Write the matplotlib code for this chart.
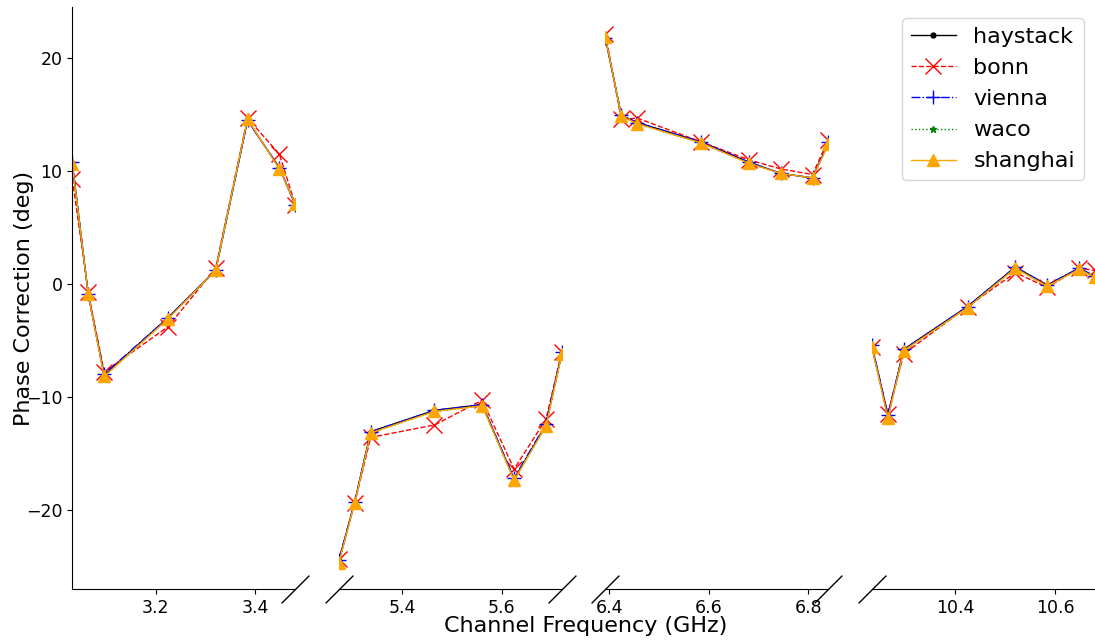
import numpy as np
import matplotlib
matplotlib.use('Agg')
import matplotlib.pyplot as plt

# channel frequencies (GHz), four bands of eight channels
band_a = [3.0324, 3.0644, 3.0964, 3.2244, 3.3204, 3.3844, 3.4484, 3.4804]
band_b = [5.2724, 5.3044, 5.3364, 5.4644, 5.5604, 5.6244, 5.6884, 5.7204]
band_c = [6.3924, 6.4244, 6.4564, 6.5844, 6.6804, 6.7444, 6.8084, 6.8404]
band_d = [10.2324, 10.2644, 10.2964, 10.4244, 10.5204, 10.5844, 10.6484, 10.6804]
bands = [band_a, band_b, band_c, band_d]

# phase corrections (deg), 32 channels per station
haystack = [10.7, -0.9, -8.1, -3.0, 1.2, 14.5, 10.3, 7.0,
            -24.6, -19.3, -13.1, -11.2, -10.7, -17.3, -12.5, -6.1,
            21.8, 14.9, 14.3, 12.6, 10.8, 9.8, 9.4, 12.5,
            -5.5, -11.7, -5.8, -2.0, 1.5, -0.1, 1.4, 0.6]
bonn = [9.3, -0.7, -7.8, -3.8, 1.4, 14.7, 11.5, 7.0,
        -24.4, -19.4, -13.6, -12.5, -10.3, -16.4, -12.0, -6.0,
        22.2, 14.6, 14.7, 12.6, 11.0, 10.2, 9.7, 12.8,
        -5.6, -11.5, -6.2, -2.0, 1.0, -0.3, 1.4, 1.2]
vienna = [10.8, -0.9, -8.0, -3.0, 1.2, 14.5, 10.3, 7.0,
          -24.5, -19.3, -13.1, -11.2, -10.7, -17.2, -12.4, -6.0,
          21.8, 15.0, 14.3, 12.6, 10.8, 9.8, 9.4, 12.6,
          -5.4, -11.6, -5.8, -2.0, 1.5, -0.1, 1.4, 0.7]
waco = [10.6, -0.9, -8.2, -3.1, 1.2, 14.6, 10.2, 7.1,
        -24.7, -19.4, -13.2, -11.3, -10.8, -17.4, -12.6, -6.2,
        21.9, 14.9, 14.2, 12.5, 10.7, 9.8, 9.4, 12.4,
        -5.6, -11.9, -5.9, -2.1, 1.4, -0.2, 1.3, 0.6]
shanghai = [10.6, -0.9, -8.2, -3.1, 1.2, 14.6, 10.2, 7.1,
            -24.7, -19.4, -13.2, -11.3, -10.8, -17.4, -12.6, -6.2,
            21.9, 14.9, 14.2, 12.5, 10.7, 9.8, 9.4, 12.4,
            -5.6, -11.9, -5.9, -2.1, 1.4, -0.2, 1.3, 0.6]

stations = [
    ('haystack', haystack, dict(color='k', ls='-', marker='.', ms=7)),
    ('bonn', bonn, dict(color='r', ls='--', marker='x', ms=11)),
    ('vienna', vienna, dict(color='b', ls='-.', marker='+', ms=10)),
    ('waco', waco, dict(color='g', ls=':', marker='*', ms=5)),
    ('shanghai', shanghai, dict(color='orange', ls='-', marker='^', ms=8)),
]

fig = plt.figure(figsize=(10.95, 6.41), dpi=100)
gs = fig.add_gridspec(1, 4, left=0.066, right=1.0, top=0.989, bottom=0.081, wspace=0.195)
axes = []
for i in range(4):
    ax = fig.add_subplot(gs[0, i], sharey=axes[0] if axes else None)
    axes.append(ax)

for i, ax in enumerate(axes):
    freqs = bands[i]
    for name, vals, style in stations:
        ax.plot(freqs, vals[i * 8:(i + 1) * 8], lw=1, label=name, **style)
    ax.set_xlim(freqs[0], freqs[-1])
    ax.spines['top'].set_visible(False)
    ax.spines['right'].set_visible(False)
    ax.tick_params(labelsize=12.5)
    if i > 0:
        ax.spines['left'].set_visible(False)
        ax.tick_params(axis='y', left=False, labelleft=False)

axes[0].set_xticks([3.2, 3.4])
axes[1].set_xticks([5.4, 5.6])
axes[2].set_xticks([6.4, 6.6, 6.8])
axes[3].set_xticks([10.4, 10.6])
for ax in axes:
    ax.set_xticklabels(['{:.1f}'.format(t) for t in ax.get_xticks()])

# break marks on the bottom spine
kw = dict(marker=[(-1, -1), (1, 1)], markersize=20, linestyle='none',
          color='k', mec='k', mew=1, clip_on=False)
for i, ax in enumerate(axes):
    if i > 0:
        ax.plot([0], [0], transform=ax.transAxes, **kw)
    if i < 3:
        ax.plot([1], [0], transform=ax.transAxes, **kw)

axes[0].set_ylabel('Phase Correction (deg)', fontsize=16)
axes[0].yaxis.set_label_coords(-0.17, 0.5)
fig.text(0.535, 0.008, 'Channel Frequency (GHz)', fontsize=16, ha='center', va='bottom')
axes[3].legend(loc='upper right', fontsize=16)

fig.savefig('out.png', dpi=100)
